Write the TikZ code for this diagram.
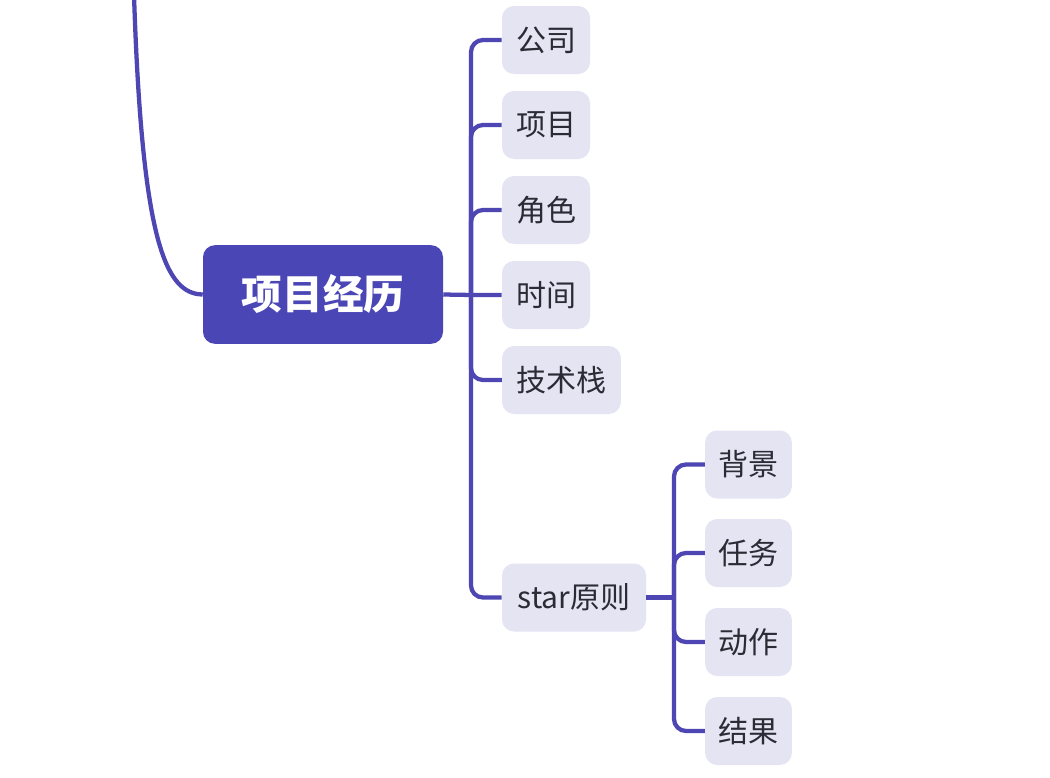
\documentclass[tikz,border=0pt]{standalone}
\usepackage{fontspec}
\newfontfamily\cjk{Noto Sans CJK SC}
\definecolor{mainc}{HTML}{4B46B6}
\definecolor{linec}{HTML}{4E47B3}
\definecolor{leafc}{HTML}{E4E4F3}
\definecolor{textc}{HTML}{2B2B35}
\begin{document}
\begin{tikzpicture}[x=0.75pt,y=-0.75pt,
  leaf/.style={fill=leafc,rounded corners=9pt,inner sep=0pt,minimum height=51pt,minimum width=66pt,text=textc,font=\cjk\fontsize{22.5}{26}\selectfont},
  topic/.style={fill=mainc,rounded corners=9pt,inner sep=0pt,minimum height=74pt,minimum width=180pt,text=white,font=\cjk\bfseries\fontsize{30.5}{35}\selectfont},
  conn/.style={draw=linec,line width=3.2pt,rounded corners=9pt}]
\fill[white] (0,0) rectangle (1050,778);
\useasboundingbox (0,0) rectangle (1050,778);
\node[topic] (main) at (323,294.5) {项目经历};
\node[leaf] (gs) at (546,40) {公司};
\node[leaf] (xm) at (546,125) {项目};
\node[leaf] (js) at (546,210) {角色};
\node[leaf] (sj) at (546,295) {时间};
\node[leaf,minimum width=89pt] (jsz) at (561.5,380) {技术栈};
\node[leaf,minimum width=108pt] (star) at (574,597.5) {star原则};
\node[leaf,minimum width=65pt] (bj) at (748.5,464.5) {背景};
\node[leaf,minimum width=65pt] (rw) at (748.5,553) {任务};
\node[leaf,minimum width=65pt] (dz) at (748.5,642) {动作};
\node[leaf,minimum width=65pt] (jg) at (748.5,731) {结果};
\coordinate (J) at (471,295);
\coordinate (K) at (674,597.5);
\coordinate (P) at (134,-5);
\begin{scope}
\clip (0,0) rectangle (1050,778);
\draw[draw=linec,line width=3.2pt] (P) .. controls (142,240) and (165,294) .. (main.west);
\end{scope}
\draw[conn] (main.east) -- (J) -- (sj.west);
\foreach \n in {gs,xm,js,jsz,star} {\draw[conn] (J) |- (\n.west);}
\draw[conn] (star.east) -- (K);
\foreach \n in {bj,rw,dz,jg} {\draw[conn] (K) |- (\n.west);}
\end{tikzpicture}
\end{document}
